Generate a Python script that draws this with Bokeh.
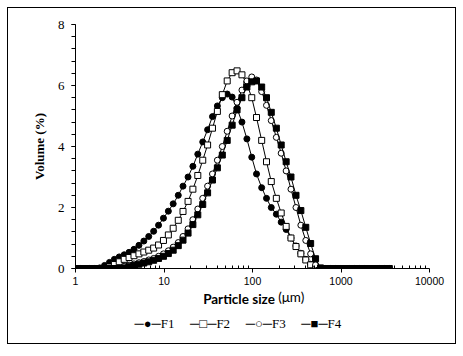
import numpy as np
from bokeh.plotting import figure
from bokeh.models import (FixedTicker, LogAxis, Title,
                          NumeralTickFormatter, ColumnDataSource)
from bokeh.embed import file_html
from bokeh.resources import INLINE

# Particle size classes (um)
sizes = [0.991, 1.13, 1.28, 1.45, 1.65, 1.88, 2.13, 2.42, 2.75, 3.12, 3.55, 4.03, 4.58,
         5.21, 5.92, 6.72, 7.64, 8.68, 9.86, 11.2, 12.7, 14.5, 16.4, 18.7, 21.2, 24.1,
         27.4, 31.1, 35.3, 40.1, 45.6, 51.8, 58.9, 66.9, 76.0, 86.4, 98.1, 111, 127, 144,
         163, 186, 211, 240, 272, 310, 352, 400, 454, 516, 586, 666, 756, 859, 976, 1110,
         1260, 1430, 1630, 1850, 2100, 2390, 2710, 3080, 3500]

F1 = [0, 0, 0, 0, 0, 0.02, 0.1, 0.2, 0.3, 0.38, 0.45, 0.53, 0.63, 0.76, 0.9, 1.05, 1.22,
      1.42, 1.65, 1.88, 2.12, 2.4, 2.7, 3.0, 3.35, 3.75, 4.15, 4.55, 4.98, 5.33, 5.6, 5.72,
      5.62, 5.25, 4.8, 4.25, 3.65, 3.1, 2.65, 2.3, 2.0, 1.78, 1.52, 1.28, 1.0, 0.74, 0.5,
      0.3, 0.14, 0.03, 0, 0, 0, 0, 0, 0, 0, 0, 0, 0, 0, 0, 0, 0, 0]
F2 = [0, 0, 0, 0, 0, 0, 0, 0.05, 0.13, 0.22, 0.3, 0.36, 0.42, 0.48, 0.54, 0.6, 0.67, 0.77,
      0.92, 1.1, 1.32, 1.58, 1.87, 2.2, 2.6, 3.05, 3.55, 4.05, 4.6, 5.15, 5.7, 6.15, 6.42,
      6.48, 6.35, 6.05, 5.6, 4.95, 4.2, 3.5, 2.85, 2.3, 1.82, 1.38, 1.0, 0.72, 0.48, 0.28,
      0.12, 0.02, 0, 0, 0, 0, 0, 0, 0, 0, 0, 0, 0, 0, 0, 0, 0]
F3 = [0, 0, 0, 0, 0, 0, 0, 0, 0, 0.03, 0.07, 0.11, 0.15, 0.19, 0.23, 0.28, 0.33, 0.4, 0.48,
      0.58, 0.7, 0.85, 1.05, 1.3, 1.6, 1.95, 2.3, 2.7, 3.1, 3.55, 4.0, 4.5, 5.0, 5.45, 5.85,
      6.15, 6.28, 6.18, 5.8, 5.35, 4.85, 4.3, 3.78, 3.2, 2.6, 2.0, 1.42, 0.92, 0.48, 0.12,
      0, 0, 0, 0, 0, 0, 0, 0, 0, 0, 0, 0, 0, 0, 0]
F4 = [0, 0, 0, 0, 0, 0, 0, 0, 0, 0, 0.02, 0.06, 0.1, 0.14, 0.18, 0.22, 0.27, 0.33, 0.4,
      0.49, 0.6, 0.75, 0.93, 1.16, 1.44, 1.76, 2.1, 2.48, 2.9, 3.3, 3.72, 4.2, 4.7, 5.2,
      5.6, 5.95, 6.12, 6.15, 5.95, 5.6, 5.12, 4.6, 4.05, 3.5, 3.0, 2.4, 1.9, 1.35, 0.82,
      0.32, 0.02, 0, 0, 0, 0, 0, 0, 0, 0, 0, 0, 0, 0, 0, 0]

series_names = ["F1", "F2", "F3", "F4"]
legend_symbols = ["\u2500\u25cf\u2500", "\u2500\u25a1\u2500", "\u2500\u25cb\u2500", "\u2500\u25a0\u2500"]
x_tick_values = [1, 10, 100, 1000, 10000]
y_tick_values = [0, 2, 4, 6, 8]

p = figure(frame_width=354, frame_height=244, x_axis_type="log", x_range=(1, 10000),
           y_range=(0, 8), output_backend="svg", toolbar_location=None,
           min_border_left=67, min_border_right=26, min_border_top=16, min_border_bottom=75,
           margin=(7, 0, 0, 7), styles={"border": "1px solid black"})
p.background_fill_color = "white"
p.border_fill_color = "white"
p.outline_line_color = None
p.grid.visible = False

x_minor = [m * d for d in [1, 10, 100, 1000] for m in range(2, 10)]
p.xaxis.ticker = FixedTicker(ticks=x_tick_values, minor_ticks=x_minor)
p.xaxis.formatter = NumeralTickFormatter(format="0")
p.xaxis.major_tick_in = 0
p.xaxis.major_tick_out = 4
p.xaxis.minor_tick_in = 3
p.xaxis.minor_tick_out = 0
p.xaxis.major_label_standoff = 4
p.xaxis.major_label_text_font = "Liberation Sans"
p.xaxis.major_label_text_font_size = "10.5px"
p.xaxis.major_label_text_color = "black"
p.xaxis.axis_label = "Particle size\u2003\u2003\u2002"
p.xaxis.axis_label_text_font = "Lato"
p.xaxis.axis_label_text_font_style = "bold"
p.xaxis.axis_label_text_font_size = "13.5px"
p.xaxis.axis_label_text_color = "black"
p.xaxis.axis_label_standoff = 3

# second bottom axis carries only the regular-weight unit part of the x title
unit_axis = LogAxis(ticker=FixedTicker(ticks=[]), axis_line_color=None,
                    major_tick_line_color=None, minor_tick_line_color=None,
                    major_tick_in=0, major_tick_out=0, minor_tick_in=0, minor_tick_out=0,
                    major_label_standoff=0, major_label_text_font_size="0px",
                    axis_label="\u2003" * 7 + "\u2002(μm)", axis_label_text_font="Lato",
                    axis_label_text_font_size="13.5px", axis_label_text_color="black",
                    axis_label_text_font_style="normal", axis_label_standoff=-21)
p.add_layout(unit_axis, "below")

y_minor = [round(0.4 * i, 2) for i in range(21)]
p.yaxis.ticker = FixedTicker(ticks=y_tick_values, minor_ticks=y_minor)
p.yaxis.major_tick_in = 0
p.yaxis.major_tick_out = 4
p.yaxis.minor_tick_in = 0
p.yaxis.minor_tick_out = 4
p.yaxis.major_label_standoff = 7
p.yaxis.major_label_text_font = "Liberation Serif"
p.yaxis.major_label_text_font_size = "13px"
p.yaxis.major_label_text_color = "black"
p.yaxis.axis_label = "Volume (%)"
p.yaxis.axis_label_text_font = "Liberation Serif"
p.yaxis.axis_label_text_font_style = "bold"
p.yaxis.axis_label_text_font_size = "13px"
p.yaxis.axis_label_text_color = "black"
p.yaxis.axis_label_standoff = 8

for ax in [p.xaxis[0], p.yaxis[0]]:
    ax.axis_line_color = "black"
    ax.major_tick_line_color = "black"
    ax.minor_tick_line_color = "black"

styles = [
    dict(marker="circle", fill="black"),
    dict(marker="square", fill="white"),
    dict(marker="circle", fill="white"),
    dict(marker="square", fill="black"),
]
for name, vals, st in zip(series_names, [F1, F2, F3, F4], styles):
    src = ColumnDataSource(dict(x=sizes, y=vals))
    p.line("x", "y", source=src, line_color="black", line_width=1)
    p.scatter("x", "y", source=src, marker=st["marker"], size=6,
              fill_color=st["fill"], line_color="black", line_width=1)

# key row below the axis title (symbol + series name)
key_text = "\u2003\u2009".join(sym + name for sym, name in zip(legend_symbols, series_names))
key = Title(text=key_text, align="left", offset=59, standoff=8,
            text_font="Liberation Serif", text_font_size="13px",
            text_font_style="normal", text_color="black")
p.add_layout(key, "below")

open("out.html", "w").write(file_html(p, INLINE))
